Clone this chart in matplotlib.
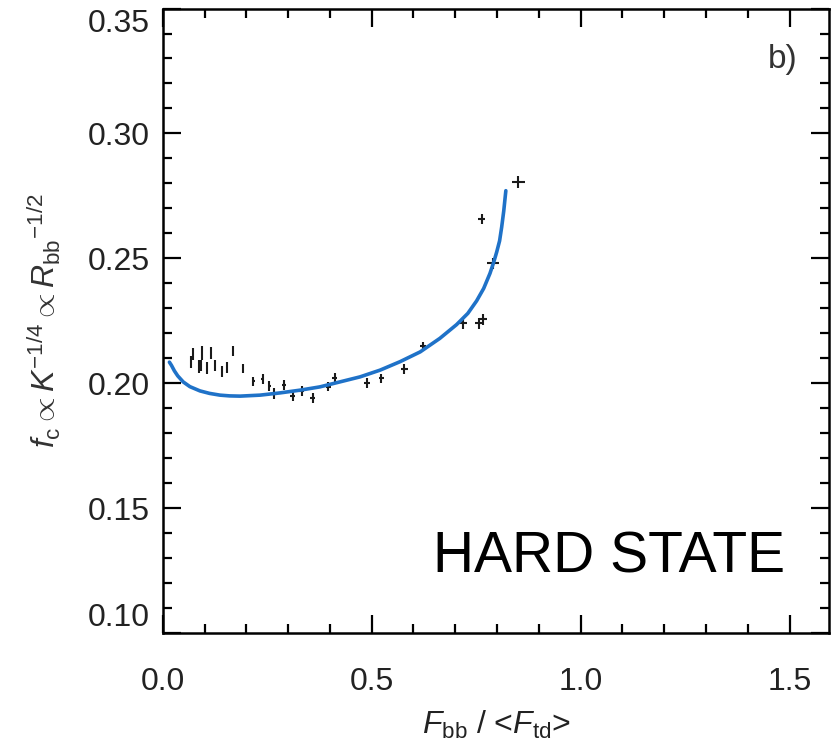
import numpy as np
import matplotlib.pyplot as plt
from matplotlib import rcParams
from matplotlib.ticker import MultipleLocator

rcParams['font.family'] = ['Liberation Sans', 'DejaVu Sans']
rcParams['mathtext.fontset'] = 'custom'
rcParams['mathtext.rm'] = 'Liberation Sans'
rcParams['mathtext.it'] = 'Liberation Sans:italic'

# observed points (F_bb/<F_td>, f_c) with errors
flux_ratio = [0.067, 0.073, 0.088, 0.093, 0.091, 0.105, 0.115, 0.125, 0.141, 0.155,
              0.167, 0.193, 0.217, 0.239, 0.255, 0.267, 0.290, 0.311, 0.333, 0.359,
              0.396, 0.412, 0.488, 0.523, 0.578, 0.623, 0.719, 0.757, 0.766, 0.791,
              0.763, 0.851]
fc_value = [0.2086, 0.2117, 0.2067, 0.2121, 0.2073, 0.2063, 0.2121, 0.2071, 0.2046, 0.2063,
            0.2130, 0.2060, 0.2008, 0.2017, 0.1991, 0.1959, 0.1993, 0.1949, 0.1969, 0.1943,
            0.1986, 0.2023, 0.2003, 0.2021, 0.2056, 0.2148, 0.2240, 0.2240, 0.2256, 0.2480,
            0.2656, 0.2806]
x_err = [0.002, 0.002, 0.002, 0.002, 0.002, 0.002, 0.002, 0.002, 0.002, 0.002,
         0.002, 0.002, 0.003, 0.003, 0.003, 0.006, 0.005, 0.006, 0.006, 0.006,
         0.006, 0.006, 0.007, 0.006, 0.008, 0.007, 0.010, 0.010, 0.010, 0.014,
         0.008, 0.015]
y_err = [0.0025, 0.0024, 0.0026, 0.0028, 0.0022, 0.0024, 0.0024, 0.0022, 0.0022, 0.0022,
         0.0020, 0.0018, 0.0018, 0.0020, 0.0020, 0.0022, 0.0020, 0.0020, 0.0020, 0.0020,
         0.0018, 0.0020, 0.0020, 0.0018, 0.0020, 0.0018, 0.0022, 0.0022, 0.0022, 0.0022,
         0.0020, 0.0025]

# model curve
model_x = [0.016, 0.021, 0.028, 0.036, 0.049, 0.065, 0.089, 0.112, 0.137, 0.160,
           0.185, 0.233, 0.281, 0.329, 0.376, 0.424, 0.472, 0.520, 0.568, 0.616,
           0.663, 0.703, 0.730, 0.751, 0.768, 0.783, 0.792, 0.799, 0.806, 0.811,
           0.816, 0.821]
model_y = [0.2085, 0.2072, 0.2050, 0.2030, 0.2006, 0.1987, 0.1970, 0.1960, 0.1953, 0.1950,
           0.1949, 0.1953, 0.1962, 0.1973, 0.1986, 0.2006, 0.2026, 0.2053, 0.2087, 0.2126,
           0.2180, 0.2235, 0.2280, 0.2330, 0.2380, 0.2440, 0.2485, 0.2525, 0.2570, 0.2625,
           0.2690, 0.2771]

x_ticks = [0.0, 0.5, 1.0, 1.5]
y_ticks = [0.10, 0.15, 0.20, 0.25, 0.30, 0.35]

fig = plt.figure(figsize=(8.4, 7.47), dpi=100)
ax = fig.add_axes([0.1937, 0.1522, 0.7936, 0.8364])

ax.errorbar(flux_ratio, fc_value, xerr=x_err, yerr=y_err, fmt='none',
            ecolor='#1a1a1a', elinewidth=1.5, capsize=0, zorder=2)
ax.plot(model_x, model_y, color='#1f72c8', lw=2.6, zorder=3,
        solid_capstyle='round', solid_joinstyle='round')

ax.set_xlim(0, 1.595)
ax.set_ylim(0.10, 0.35)
ax.set_xticks(x_ticks)
ax.set_xticklabels([f'{v:.1f}' for v in x_ticks])
ax.set_yticks(y_ticks)
ax.set_yticklabels([f'{v:.2f}' for v in y_ticks])
ax.xaxis.set_minor_locator(MultipleLocator(0.1))
ax.yaxis.set_minor_locator(MultipleLocator(0.01))
ax.tick_params(which='both', direction='in', top=True, right=True, width=1.6,
               colors='black', labelcolor='#222222', labelsize=23)
ax.tick_params(which='major', length=13)
ax.tick_params(which='minor', length=6.5)
ax.tick_params(axis='x', pad=24)
ax.tick_params(axis='y', pad=9)
for s in ax.spines.values():
    s.set_linewidth(1.8)

ylabs = ax.get_yticklabels()
ylabs[0].set_va('bottom')
ylabs[-1].set_va('top')

ax.set_xlabel(r'$\mathit{F}_{\mathrm{bb}}$ / <$\mathit{F}_{\mathrm{td}}$>',
              fontsize=23, color='#222222', labelpad=9)
ax.set_ylabel(r'$\mathit{f}_{\mathrm{c}}\propto\mathit{K}^{-1/4}\propto\mathit{R}_{\mathrm{bb}}{}^{-1/2}$',
              fontsize=23, color='#333333', labelpad=18)

ax.text(1.52, 0.326, 'b)', fontsize=24, color='#333333', ha='right', va='baseline')
ax.text(0.647, 0.1245, 'HARD STATE', fontsize=41, color='black', ha='left', va='baseline')

plt.savefig('out.png', dpi=100)
